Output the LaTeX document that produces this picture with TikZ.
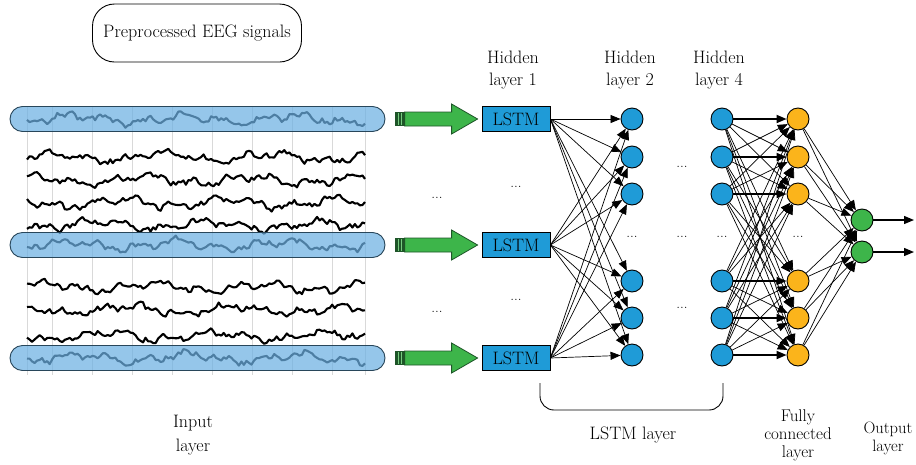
\documentclass[tikz,border=0pt]{standalone}
\usetikzlibrary{positioning,arrows.meta,calc}

\definecolor{barblue}{RGB}{108,176,226}
\definecolor{barline}{RGB}{40,70,90}
\definecolor{cellblue}{RGB}{31,155,215}
\definecolor{fcorange}{RGB}{251,180,27}
\definecolor{outgreen}{RGB}{61,181,74}
\definecolor{darkgreen}{RGB}{30,85,40}

\tikzset{
  lbl/.style={font=\fontsize{18}{22}\selectfont, align=center, inner sep=0pt},
  dotsl/.style={font=\fontsize{15}{15}\selectfont, inner sep=0pt},
  sigbar/.style={draw=barline, line width=0.9pt, fill=barblue, fill opacity=0.72,
    rounded corners=12.5pt, minimum width=375pt, minimum height=25pt, inner sep=0pt},
  trace/.style={line width=2.1pt, line join=round},
  lstmbox/.style={draw, line width=0.8pt, fill=cellblue, minimum width=68pt,
    minimum height=25pt, inner sep=0pt, font=\fontsize{18}{18}\selectfont},
  neuron/.style={circle, draw, line width=0.9pt, minimum size=22pt, inner sep=0pt},
  link/.style={-{Triangle[length=10pt,width=8pt]}, line width=0.7pt},
  biglink/.style={-{Triangle[length=10pt,width=8pt]}, line width=1.8pt},
  blockarrow/.style={fill=outgreen, draw=darkgreen, line width=0.8pt},
}

\begin{document}
\begin{tikzpicture}[x=1pt, y=-1pt]
  \useasboundingbox (0,0) rectangle (916,464);

  % Title box
  \node[lbl, draw, line width=0.9pt, rounded corners=22pt, minimum width=209pt,
    minimum height=58pt] (title) at (197,33) {Preprocessed EEG signals};

  % EEG channels: faint grid, traces, highlighted bars
  \foreach \gx in {27,52,92,132,172,212,252,292,332,365}
    \draw[black!15, line width=0.6pt] (\gx,107) -- (\gx,375);
  \foreach \yy/\ph/\s in {119/20/3, 157/95/7, 180/160/11, 203/240/13, 225/300/17,
                          245/50/19, 287/130/23, 310/210/29, 336/280/31, 358/10/37} {
    \pgfmathsetseed{\s}
    \draw[trace] plot[domain=27:365, samples=135]
      (\x, {\yy + 3.5*sin(3.3*\x+\ph) + 2.5*sin(9.1*\x+2*\ph) + 1.5*sin(23*\x+3*\ph) + 2.2*rand});
  }
  \foreach \i/\y in {1/119, 2/245, 3/358}
    \node[sigbar] (bar\i) at (197.5,\y) {};

  % LSTM cells fed by the block arrows
  \foreach \i/\y in {1/119, 2/245, 3/358} {
    \node[lstmbox] (lstm\i) at (516,\y) {LSTM};
    \coordinate (tip\i) at ($(lstm\i.west)+(-4,0)$);
    \fill[darkgreen] ($(tip\i)+(-83,-7)$) rectangle ($(tip\i)+(-73,7)$);
    \draw[outgreen!70, line width=0.7pt] ($(tip\i)+(-79,-6)$) -- ($(tip\i)+(-79,6)$);
    \draw[outgreen!70, line width=0.7pt] ($(tip\i)+(-76,-6)$) -- ($(tip\i)+(-76,6)$);
    \draw[blockarrow] ($(tip\i)+(-73,-7)$) -- ($(tip\i)+(-26,-7)$) -- ($(tip\i)+(-26,-15)$)
      -- (tip\i) -- ($(tip\i)+(-26,15)$) -- ($(tip\i)+(-26,7)$) -- ($(tip\i)+(-73,7)$) -- cycle;
  }

  % Hidden layers, fully connected layer, output layer
  \foreach \j/\y in {1/119, 2/157, 3/194, 4/281, 5/318, 6/355} {
    \node[neuron, fill=cellblue] (hA\j) at (632,\y) {};
    \node[neuron, fill=cellblue] (hB\j) at (722,\y) {};
    \node[neuron, fill=fcorange] (fc\j) at (798,\y) {};
  }
  \foreach \k/\y in {1/220, 2/252} {
    \node[neuron, fill=outgreen] (out\k) at (862,\y) {};
    \coordinate (end\k) at (914,\y);
  }

  % Connections
  \foreach \i in {1,2,3}
    \foreach \j in {1,...,6}
      \draw[link] (lstm\i.east) -- (hA\j);
  \foreach \i in {1,...,6}
    \foreach \j in {1,...,6} {
      \ifnum\i=\j
        \draw[biglink] (hB\i) -- (fc\j);
      \else
        \draw[link] (hB\i) -- (fc\j);
      \fi
    }
  \foreach \i in {1,...,6}
    \foreach \k in {1,2}
      \draw[link] (fc\i) -- (out\k);
  \foreach \k in {1,2}
    \draw[link, line width=1.3pt] (out\k) -- (end\k);

  % Ellipses
  \foreach \n/\x/\y in {a/437/198, b/437/312, c/516/187, d/516/300, e/632/237,
                        f/682/167, g/682/237, h/682/308, i/722/237, j/798/237}
    \node[dotsl] (dots\n) at (\x,\y) {...};

  % Layer labels
  \node[lbl] (lab1) at (513,70) {Hidden\\layer 1};
  \node[lbl] (lab2) at (630,70) {Hidden\\layer 2};
  \node[lbl] (lab4) at (719,70) {Hidden\\layer 4};
  \node[lbl] (labin) at (193,435) {Input\\[2pt]layer};
  \node[lbl] (lablstm) at (633,435) {LSTM layer};
  \node[lbl, font=\fontsize{17}{18}\selectfont] (labfc) at (798,435) {Fully\\connected\\layer};
  \node[lbl, font=\fontsize{16.5}{18}\selectfont] (labout) at (888,438) {Output\\layer};

  % Bracket under the LSTM layers
  \draw[line width=0.9pt, rounded corners=14pt] (540,383) -- (540,410) -- (723,410) -- (723,383);
\end{tikzpicture}
\end{document}
